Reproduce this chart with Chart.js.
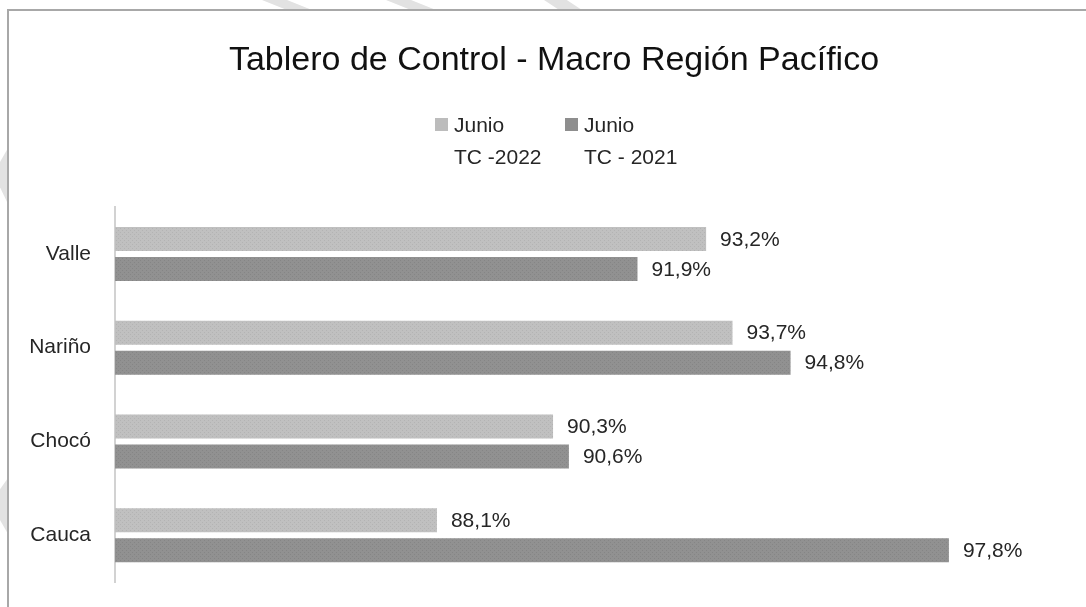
<!DOCTYPE html>
<html lang="es">
<head>
    <meta charset="UTF-8">
    <title>Tablero de Control - Macro Región Pacífico</title>
    <script src="https://cdn.jsdelivr.net/npm/chart.js"></script>
    <style>
        html, body {
            margin: 0;
            padding: 0;
            background: #ffffff;
            width: 1086px;
            height: 607px;
            overflow: hidden;
        }

        .stripe {
            position: absolute;
            background: #e2e2e2;
        }

        #frame {
            position: absolute;
            left: 7px;
            top: 9px;
            width: 1200px;
            height: 700px;
            background: #ffffff;
            border-top: 2px solid #a8a8a8;
            border-left: 2px solid #a8a8a8;
        }

        #chartBox {
            position: absolute;
            left: 0;
            top: 0;
            width: 1086px;
            height: 607px;
        }
    </style>
</head>
<body>
    <!-- restos de la marca de agua detrás del gráfico -->
    <div class="stripe" style="left:262px;top:0;width:50px;height:10px;clip-path:polygon(0 0,50% 0,100% 100%,50% 100%);"></div>
    <div class="stripe" style="left:386px;top:0;width:50px;height:10px;clip-path:polygon(0 0,50% 0,100% 100%,50% 100%);"></div>
    <div class="stripe" style="left:544px;top:0;width:38px;height:10px;clip-path:polygon(0 0,60% 0,100% 100%,40% 100%);"></div>
    <div class="stripe" style="left:0;top:148px;width:8px;height:56px;clip-path:polygon(100% 0,100% 100%,0 70%,0 25%);"></div>
    <div class="stripe" style="left:0;top:478px;width:8px;height:56px;clip-path:polygon(100% 0,100% 100%,0 75%,0 20%);"></div>

    <div id="frame"></div>
    <div id="chartBox">
        <canvas id="pacificoChart" width="1086" height="607"></canvas>
    </div>

    <script>
        const chartTitle = 'Tablero de Control - Macro Región Pacífico';
        const categories = ['Valle', 'Nariño', 'Chocó', 'Cauca'];
        const seriesNames = [['Junio', 'TC -2022'], ['Junio', 'TC - 2021']];
        const tc2022 = [93.2, 93.7, 90.3, 88.1];
        const tc2021 = [91.9, 94.8, 90.6, 97.8];
        const xMin = 82;
        const xMax = 100;

        const FONT = "'Liberation Sans', Arial, sans-serif";
        const TEXT_COLOR = '#262626';

        // textura punteada como la del relleno de Excel
        function dottedPattern(base, dot) {
            const c = document.createElement('canvas');
            c.width = 4;
            c.height = 4;
            const g = c.getContext('2d');
            g.fillStyle = base;
            g.fillRect(0, 0, 4, 4);
            g.fillStyle = dot;
            g.fillRect(0, 0, 1, 1);
            g.fillRect(2, 2, 1, 1);
            return g.createPattern(c, 'repeat');
        }

        const lightFill = dottedPattern('#c0c0c0', '#b3b3b3');
        const darkFill = dottedPattern('#919191', '#858585');
        const swatches = ['#bcbcbc', '#8e8e8e'];

        function fmt(v) {
            return v.toFixed(1).replace('.', ',') + '%';
        }

        // título y leyenda de dos líneas
        const headerPlugin = {
            id: 'header',
            afterDraw(chart) {
                const ctx = chart.ctx;
                ctx.save();
                ctx.fillStyle = '#111111';
                ctx.font = '34px ' + FONT;
                ctx.textAlign = 'center';
                ctx.textBaseline = 'alphabetic';
                ctx.fillText(chartTitle, 554, 70);

                const legendX = [435, 565];
                ctx.font = '21px ' + FONT;
                ctx.textAlign = 'left';
                seriesNames.forEach((lines, i) => {
                    ctx.fillStyle = swatches[i];
                    ctx.fillRect(legendX[i], 118, 13, 13);
                    ctx.fillStyle = TEXT_COLOR;
                    lines.forEach((line, j) => {
                        ctx.fillText(line, legendX[i] + 19, 132 + j * 32);
                    });
                });
                ctx.restore();
            }
        };

        // etiquetas de valor al final de cada barra
        const valueLabels = {
            id: 'valueLabels',
            afterDatasetsDraw(chart) {
                const ctx = chart.ctx;
                ctx.save();
                ctx.font = '21px ' + FONT;
                ctx.fillStyle = TEXT_COLOR;
                ctx.textAlign = 'left';
                ctx.textBaseline = 'middle';
                chart.data.datasets.forEach((ds, i) => {
                    chart.getDatasetMeta(i).data.forEach((bar, j) => {
                        ctx.fillText(fmt(ds.data[j]), bar.x + 14, bar.y + 1);
                    });
                });
                ctx.restore();
            }
        };

        new Chart(document.getElementById('pacificoChart'), {
            type: 'bar',
            data: {
                labels: categories,
                datasets: [
                    {
                        label: seriesNames[0].join(' '),
                        data: tc2022,
                        backgroundColor: lightFill,
                        borderWidth: 0
                    },
                    {
                        label: seriesNames[1].join(' '),
                        data: tc2021,
                        backgroundColor: darkFill,
                        borderWidth: 0
                    }
                ]
            },
            options: {
                indexAxis: 'y',
                responsive: false,
                animation: false,
                devicePixelRatio: 1,
                categoryPercentage: 0.64,
                barPercentage: 0.8,
                layout: {
                    padding: { top: 207, bottom: 25, left: 0, right: 21 }
                },
                plugins: {
                    legend: { display: false },
                    title: { display: false },
                    tooltip: { enabled: false }
                },
                scales: {
                    x: {
                        display: false,
                        min: xMin,
                        max: xMax
                    },
                    y: {
                        afterFit(scale) {
                            scale.width = 115;
                            // sin margen extra de las etiquetas, el área queda fija por el padding
                            scale.paddingTop = 0;
                            scale.paddingBottom = 0;
                        },
                        grid: { display: false, drawTicks: false },
                        border: { display: true, color: '#d2d2d2', width: 2 },
                        ticks: {
                            padding: 24,
                            color: TEXT_COLOR,
                            font: { family: FONT, size: 21 }
                        }
                    }
                }
            },
            plugins: [headerPlugin, valueLabels]
        });
    </script>
</body>
</html>
